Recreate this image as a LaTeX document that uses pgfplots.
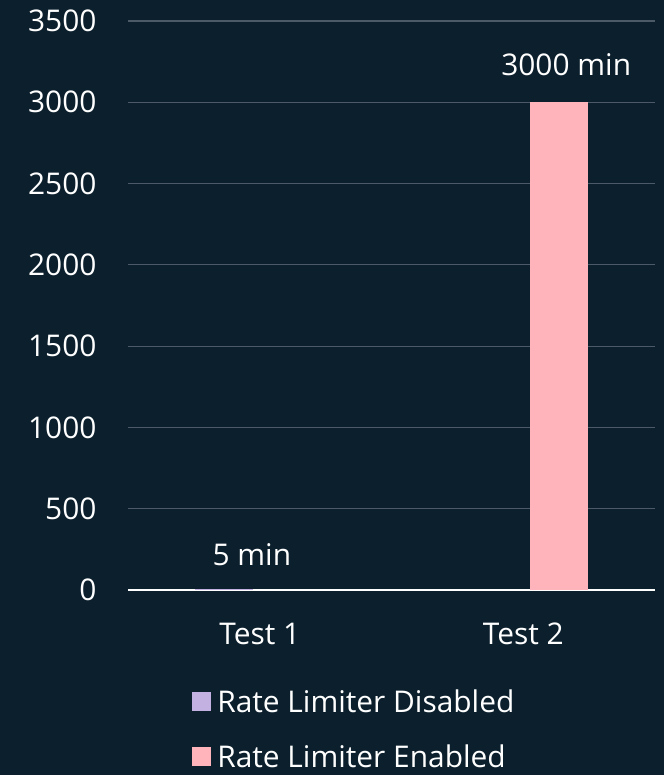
\documentclass[border=0pt]{standalone}
\usepackage{pgfplots}
\pgfplotsset{compat=1.18}
\usepackage{fontspec}
\setmainfont{Open Sans}
\definecolor{bg}{HTML}{0C1F2D}
\definecolor{gridc}{HTML}{4B5A66}
\definecolor{dis}{HTML}{C3B1E1}
\definecolor{ena}{HTML}{FFB3BA}
\begin{document}
\begin{tikzpicture}[x=1bp,y=1bp]
\fill[bg] (0,0) rectangle (664,775);
\begin{axis}[
  at={(128bp,185bp)}, anchor=south west,
  scale only axis, width=527bp, height=569bp,
  font=\fontsize{30}{35}\selectfont,
  ybar=14bp, bar width=58bp,
  xmin=-0.5, xmax=1.5, ymin=0, ymax=3500,
  xtick={0,1}, xticklabels={Test 1, Test 2},
  ytick={0,500,...,3500},
  /pgf/number format/assume math mode=true,
  /pgf/number format/1000 sep={},
  tick style={draw=none},
  ymajorgrids, grid style={gridc, line width=1.2pt},
  axis x line*=bottom, axis y line*=left,
  y axis line style={draw=none},
  x axis line style={white, line width=1.2pt, -},
  ticklabel style={white},
  yticklabel style={xshift=-28bp},
  xticklabel style={yshift=-25bp},
  legend style={at={(0.116,-0.171)}, anchor=north west, draw=none, fill=none,
    text=white, row sep=31bp, font=\fontsize{30}{35}\selectfont,
    legend cell align=left, nodes={inner xsep=6bp, inner ysep=0pt}},
  legend image code/.code={\fill[#1] (0bp,-9.5bp) rectangle (19bp,9.5bp);},
  clip=false,
]
\addplot[draw=none, fill=dis] coordinates {(0,5)};
\addlegendentry{Rate Limiter Disabled}
\addplot[draw=none, fill=ena] coordinates {(1,3000)};
\addlegendentry{Rate Limiter Enabled}
\node[white, anchor=center] at (axis cs:-0.03,215) {5 min};
\node[white, anchor=center] at (axis cs:1.163,3230) {3000 min};
\end{axis}
\pgfresetboundingbox
\useasboundingbox (0,0) rectangle (664,775);
\end{tikzpicture}
\end{document}
